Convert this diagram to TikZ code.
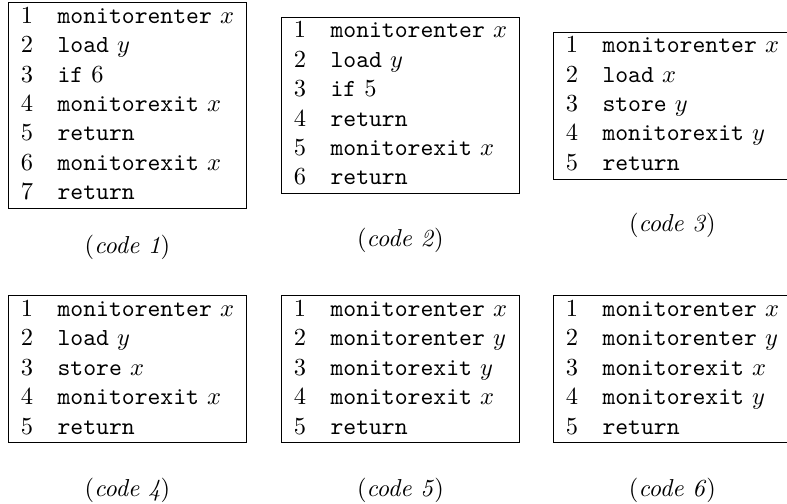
\documentclass[tikz,border=0pt]{standalone}
\usetikzlibrary{positioning}

\begin{document}
\begin{tikzpicture}[
    x=1pt, y=1pt,           % 座標はポイント単位で指定
    font=\normalsize,
    % 命令列の枠（tabular を罫線で囲む）
    listing/.style={
        draw=black,
        line width=0.4pt,
        inner sep=0pt,
        anchor=west
    },
    % 各コードの下のキャプション
    caption/.style={inner sep=0pt}
]
    \setlength{\tabcolsep}{5pt}

    % 全体の大きさを固定
    \useasboundingbox (0, 0) rectangle (321.2, 205.7);

    % --- 1. 上段の命令列 ---
    \node [listing] (code1) at (3.3, 162.6) {%
        \begin{tabular}{ll}
            1 & \texttt{monitorenter} $x$ \\
            2 & \texttt{load} $y$ \\
            3 & \texttt{if} 6 \\
            4 & \texttt{monitorexit} $x$ \\
            5 & \texttt{return} \\
            6 & \texttt{monitorexit} $x$ \\
            7 & \texttt{return}
        \end{tabular}};

    \node [listing] (code2) at (114.7, 162.6) {%
        \begin{tabular}{ll}
            1 & \texttt{monitorenter} $x$ \\
            2 & \texttt{load} $y$ \\
            3 & \texttt{if} 5 \\
            4 & \texttt{return} \\
            5 & \texttt{monitorexit} $x$ \\
            6 & \texttt{return}
        \end{tabular}};

    \node [listing] (code3) at (225.7, 162.6) {%
        \begin{tabular}{ll}
            1 & \texttt{monitorenter} $x$ \\
            2 & \texttt{load} $x$ \\
            3 & \texttt{store} $y$ \\
            4 & \texttt{monitorexit} $y$ \\
            5 & \texttt{return}
        \end{tabular}};

    % --- 2. 下段の命令列 ---
    \node [listing] (code4) at (3.3, 54.9) {%
        \begin{tabular}{ll}
            1 & \texttt{monitorenter} $x$ \\
            2 & \texttt{load} $y$ \\
            3 & \texttt{store} $x$ \\
            4 & \texttt{monitorexit} $x$ \\
            5 & \texttt{return}
        \end{tabular}};

    \node [listing] (code5) at (114.7, 54.9) {%
        \begin{tabular}{ll}
            1 & \texttt{monitorenter} $x$ \\
            2 & \texttt{monitorenter} $y$ \\
            3 & \texttt{monitorexit} $y$ \\
            4 & \texttt{monitorexit} $x$ \\
            5 & \texttt{return}
        \end{tabular}};

    \node [listing] (code6) at (225.7, 54.9) {%
        \begin{tabular}{ll}
            1 & \texttt{monitorenter} $x$ \\
            2 & \texttt{monitorenter} $y$ \\
            3 & \texttt{monitorexit} $x$ \\
            4 & \texttt{monitorexit} $y$ \\
            5 & \texttt{return}
        \end{tabular}};

    % --- 3. キャプション ---
    \node [caption, below=10.5pt of code1] (cap1) {(\textit{code 1})};
    \node [caption, below=13.8pt of code2] (cap2) {(\textit{code 2})};
    \node [caption, below=13.4pt of code3] (cap3) {(\textit{code 3})};
    \node [caption, below=13.8pt of code4] (cap4) {(\textit{code 4})};
    \node [caption, below=13.8pt of code5] (cap5) {(\textit{code 5})};
    \node [caption, below=14.0pt of code6] (cap6) {(\textit{code 6})};

\end{tikzpicture}
\end{document}
